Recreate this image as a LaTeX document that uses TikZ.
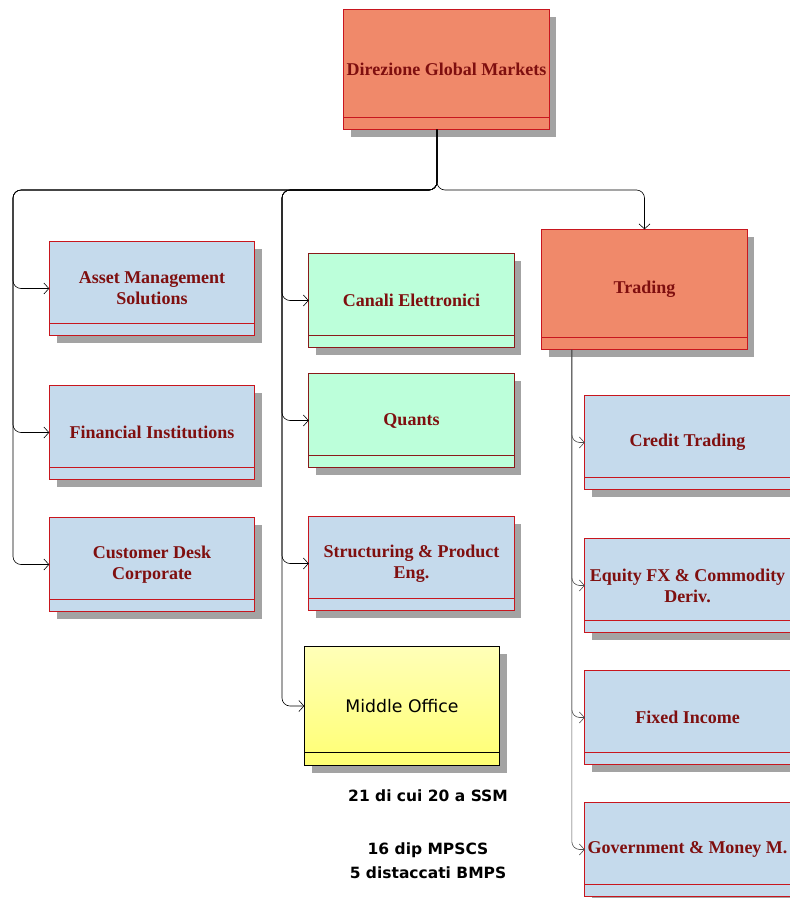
\documentclass[tikz,border=0pt]{standalone}
\usepackage{fontspec}
\setmainfont{Liberation Serif}
\newfontfamily\notefont{DejaVu Sans}
\usetikzlibrary{arrows.meta}

\definecolor{boxBlue}{HTML}{C5DAEC}
\definecolor{boxGreen}{HTML}{BCFFDA}
\definecolor{boxOrange}{HTML}{F0896A}
\definecolor{boxLine}{HTML}{C8161E}
\definecolor{deskLine}{HTML}{8A1A1A}
\definecolor{labelRed}{HTML}{7F0F0F}
\definecolor{shadowGrey}{HTML}{A3A3A3}

\begin{document}
\begin{tikzpicture}[x=1pt, y=-1pt,
    unit/.style={fill=boxBlue, minimum width=205pt, minimum height=94pt, inner sep=0pt, align=center, text=labelRed, font=\fontsize{18}{21}\selectfont\bfseries,
        preaction={fill=shadowGrey, transform canvas={xshift=7pt, yshift=-7pt}}},
    head/.style={unit, fill=boxOrange, minimum height=120pt},
    desk/.style={unit, fill=boxGreen},
    office/.style={unit, top color=yellow!28, bottom color=yellow!55, minimum width=195pt, minimum height=119pt, text=black, font=\notefont\fontsize{17.3}{21}\selectfont},
    note/.style={align=center, font=\notefont\bfseries\fontsize{15.5}{24}\selectfont},
    conn/.style={draw=black, line width=0.6pt, rounded corners=8pt, -{Straight Barb[length=5pt, width=11pt]}}
]
    \useasboundingbox (0,0) rectangle (790,898);
    % Top of the tree
    \node[head] (dir) at (446.5,69.5) {Direzione Global Markets};
    \node[head] (trd) at (644.5,289.5) {Trading};
    % Left column
    \node[unit] (ams) at (152,288.5) {Asset Management\\Solutions};
    \node[unit] (fin) at (152,432.5) {Financial Institutions};
    \node[unit] (cus) at (152,564.5) {Customer Desk\\Corporate};
    % Middle column
    \node[desk] (can) at (411.5,300.5) {Canali Elettronici};
    \node[desk] (qua) at (411.5,420.5) {Quants};
    \node[unit] (str) at (411.5,563.5) {Structuring \& Product\\Eng.};
    \node[office] (mid) at (402,706) {Middle Office};
    \node[note] (n1) at (428,796) {21 di cui 20 a SSM};
    \node[note] (n2) at (428,861) {16 dip MPSCS\\5 distaccati BMPS};
    % Trading column
    \node[unit] (crt) at (687.5,442.5) {Credit Trading};
    \node[unit] (eqt) at (687.5,585.5) {Equity FX \& Commodity\\Deriv.};
    \node[unit] (fix) at (687.5,717.5) {Fixed Income};
    \node[unit] (gov) at (687.5,849.5) {Government \& Money M.};
    % Frames and bottom strips
    \foreach \n/\c/\w/\s in {dir/boxLine/1/12, trd/boxLine/1/12, ams/boxLine/1/12, fin/boxLine/1/12, cus/boxLine/1/12, can/deskLine/1/12, qua/deskLine/1/12, str/boxLine/1/12, mid/black/1.3/13, crt/boxLine/1/12, eqt/boxLine/1/12, fix/boxLine/1/12, gov/boxLine/1/12} {
        \draw[draw=\c, line width=\w pt] (\n.south west) rectangle (\n.north east);
        \draw[draw=\c, line width=\w pt] ([yshift=\s pt]\n.south west) -- ([yshift=\s pt]\n.south east);
    }
    % Buses
    \coordinate (root) at ([xshift=-9.5pt]dir.south);
    \coordinate (jn) at (437,190);
    \coordinate (lbus) at (13,190);
    \coordinate (mbus) at (282,190);
    \coordinate (tbus) at ([xshift=30pt]trd.south west);
    \foreach \n in {ams,fin,cus} \draw[conn] (root) |- (lbus) |- (\n.west);
    \foreach \n in {can,qua,str,mid} \draw[conn] (root) |- (mbus) |- (\n.west);
    \draw[conn] (root) -- (jn) -| (trd.north);
    \foreach \n in {crt,eqt,fix,gov} \draw[conn, draw=black!70] (tbus) |- (\n.west);
\end{tikzpicture}
\end{document}
